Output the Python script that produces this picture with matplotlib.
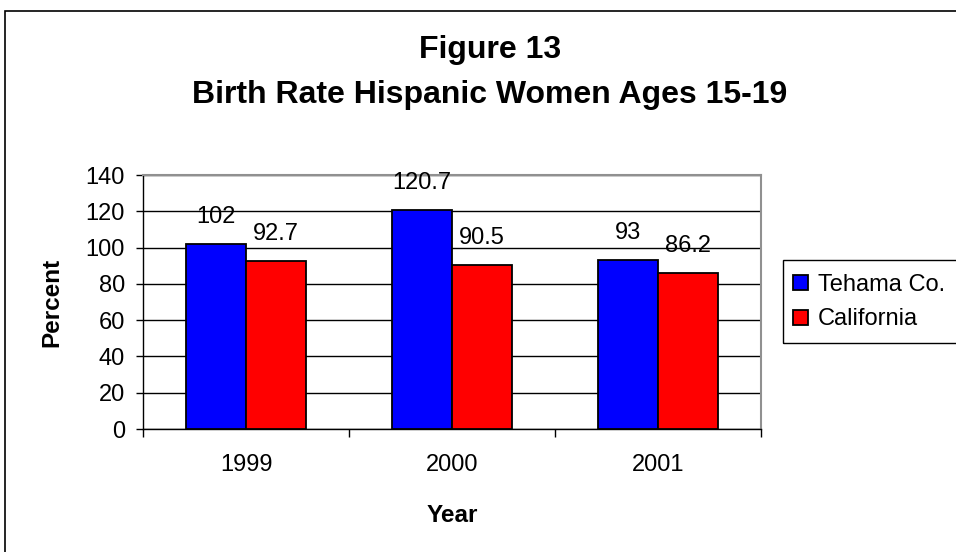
import numpy as np
import matplotlib
matplotlib.use("Agg")
import matplotlib.pyplot as plt
from matplotlib.patches import Rectangle

plt.rcParams['font.family'] = ['Liberation Sans', 'DejaVu Sans']

years = ["1999", "2000", "2001"]
tehama = [102, 120.7, 93]
california = [92.7, 90.5, 86.2]
tehama_labels = ["102", "120.7", "93"]
california_labels = ["92.7", "90.5", "86.2"]

W, H = 956, 552
fig = plt.figure(figsize=(W/100, H/100), dpi=100)
ax = fig.add_axes([143/W, 1 - 429/H, (761 - 143)/W, (429 - 175)/H])

# outer chart border (clipped on the right and bottom like the original)
fig.patches.append(Rectangle((5/W, -0.1), 1.2, 0.1 + (1 - 11/H), transform=fig.transFigure,
                             fill=False, edgecolor='black', linewidth=1.2, clip_on=False))

x = np.arange(len(years))
w = 0.29
b1 = ax.bar(x - w/2, tehama, w, color='#0000FF', edgecolor='black', linewidth=1.3, zorder=3, label='Tehama Co.')
b2 = ax.bar(x + w/2, california, w, color='#FF0000', edgecolor='black', linewidth=1.3, zorder=3, label='California')

for bars, labs in ((b1, tehama_labels), (b2, california_labels)):
    for r, t in zip(bars, labs):
        ax.annotate(t, (r.get_x() + r.get_width()/2, r.get_height()), xytext=(0, 15),
                    textcoords='offset points', ha='center', va='baseline', fontsize=17, zorder=4)

ax.set_xlim(-0.5, 2.5)
ax.set_ylim(0, 140)
ax.set_yticks(np.arange(0, 141, 20))
ax.yaxis.grid(True, color='black', linewidth=1, zorder=0)
ax.set_axisbelow(True)

ax.set_xticks(x)
ax.set_xticklabels(years, fontsize=17)
ax.set_xticks([-0.5, 0.5, 1.5, 2.5], minor=True)
ax.tick_params(axis='x', which='major', length=0, pad=18)
ax.tick_params(axis='x', which='minor', length=6, width=1, color='black')
ax.tick_params(axis='y', labelsize=17, length=5, width=1, pad=8)

for s in ('top', 'right'):
    ax.spines[s].set_color('#909090')
    ax.spines[s].set_linewidth(1.5)
for s in ('left', 'bottom'):
    ax.spines[s].set_color('black')
    ax.spines[s].set_linewidth(1)

ax.set_ylabel('Percent', fontsize=17.5, fontweight='bold')
ax.yaxis.set_label_coords((52 - 143)/618, 0.5)
ax.yaxis.label.set_va('center')
ax.set_xlabel('Year', fontsize=17.5, fontweight='bold')
ax.xaxis.set_label_coords(0.5, (429 - 515)/254)
ax.xaxis.label.set_va('center')

fig.text(490/W, 1 - 58/H, 'Figure 13', ha='center', va='baseline', fontsize=23, fontweight='bold')
fig.text(490/W, 1 - 103/H, 'Birth Rate Hispanic Women Ages 15-19', ha='center', va='baseline',
         fontsize=23, fontweight='bold')

# legend: frame drawn separately so it runs off the right edge as in the original
fig.patches.append(Rectangle((783/W, 1 - 343/H), 0.5, 83/H, transform=fig.transFigure,
                             fill=False, edgecolor='black', linewidth=1, clip_on=False))
leg = ax.legend(loc='center left', bbox_to_anchor=(793/W, 1 - 302/H), bbox_transform=fig.transFigure,
                fontsize=17, frameon=False, borderpad=0, borderaxespad=0,
                handlelength=0.62, handleheight=0.62, handletextpad=0.42, labelspacing=0.55)

fig.savefig('out.png', dpi=100)
